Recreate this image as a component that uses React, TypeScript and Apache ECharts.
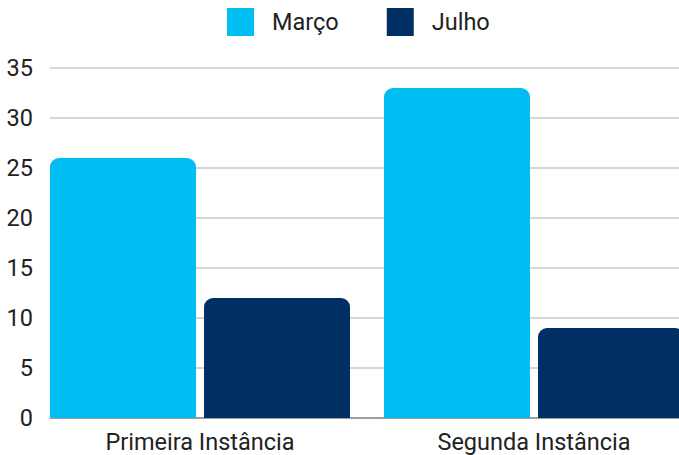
import React, { useEffect, useRef } from "react";
import * as echarts from "echarts";

const categories = ["Primeira Instância", "Segunda Instância"];
const seriesNames = ["Março", "Julho"];
const marcoValues = [26, 33];
const julhoValues = [12, 9];
const yTicks = [0, 5, 10, 15, 20, 25, 30, 35];

export default function App() {
  const ref = useRef<HTMLDivElement>(null);
  useEffect(() => {
    if (!ref.current) return;
    const chart = echarts.init(ref.current, null, { renderer: "svg" });
    const font = "Roboto";
    const yMax = yTicks[yTicks.length - 1];
    chart.setOption({
      animation: false,
      textStyle: { fontFamily: font },
      legend: {
        top: 3,
        left: 227,
        padding: [5, 0, 5, 0],
        itemWidth: 27,
        itemHeight: 28,
        itemGap: 48,
        icon: "rect",
        data: seriesNames,
        textStyle: { fontSize: 23.5, color: "#222", fontFamily: font, padding: [0, 0, 0, 13] },
      },
      grid: [
        { left: 50, right: 22, top: 68, bottom: 37 },
        { left: 33, right: 0, top: 68, bottom: 37 },
      ],
      xAxis: [
        {
          gridIndex: 0,
          type: "category",
          data: [""],
          axisLine: { show: true, lineStyle: { color: "#8c8c8c", width: 1.5 } },
          axisTick: { show: false },
          axisLabel: { show: false },
        },
        {
          gridIndex: 1,
          type: "category",
          data: categories,
          axisLine: { show: false },
          axisTick: { show: false },
          axisLabel: { fontSize: 23.5, color: "#222", margin: 12, fontFamily: font },
        },
      ],
      yAxis: [
        {
          gridIndex: 0,
          type: "value",
          min: 0,
          max: yMax,
          interval: 5,
          axisLine: { show: false },
          axisTick: { show: false },
          axisLabel: { fontSize: 23.5, color: "#222", margin: 17, fontFamily: font },
          splitLine: { lineStyle: { color: "#c8c8c8", width: 1.5 } },
        },
        {
          gridIndex: 1,
          type: "value",
          min: 0,
          max: yMax,
          interval: 5,
          show: false,
          splitLine: { show: false },
        },
      ],
      series: [
        {
          name: seriesNames[0],
          type: "bar",
          xAxisIndex: 1,
          yAxisIndex: 1,
          data: marcoValues,
          barWidth: 146,
          barGap: "5.5%",
          itemStyle: { color: "#00BEF2", borderRadius: [9, 9, 0, 0] },
        },
        {
          name: seriesNames[1],
          type: "bar",
          xAxisIndex: 1,
          yAxisIndex: 1,
          data: julhoValues,
          barWidth: 146,
          barGap: "5.5%",
          itemStyle: { color: "#002F63", borderRadius: [9, 9, 0, 0] },
        },
      ],
    });
    return () => chart.dispose();
  }, []);
  return (
    <div
      style={{
        position: "absolute",
        left: 0,
        top: 0,
        width: 679,
        height: 455,
        overflow: "hidden",
      }}
    >
      <div ref={ref} style={{ width: 701, height: 455 }} />
    </div>
  );
}
